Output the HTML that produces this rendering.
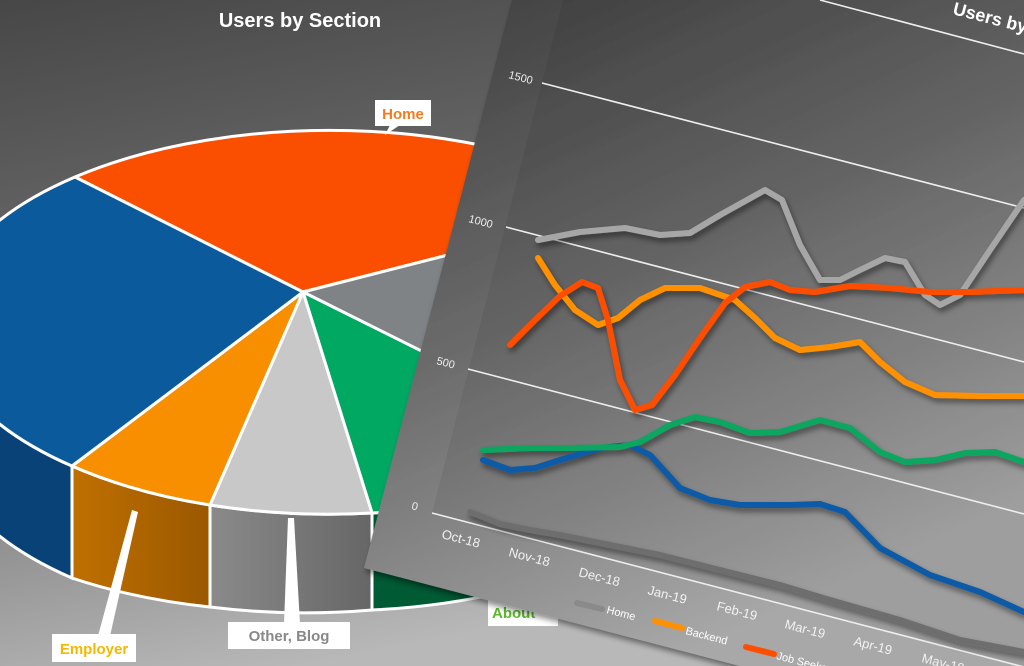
<!DOCTYPE html>
<html><head><meta charset="utf-8"><style>
html,body{margin:0;padding:0;width:1024px;height:666px;overflow:hidden;background:#777}
text{font-family:"Liberation Sans",sans-serif}
</style></head><body>
<svg width="1024" height="666" viewBox="0 0 1024 666" xmlns="http://www.w3.org/2000/svg">
<defs>
<linearGradient id="bg" x1="0" y1="0" x2="0.3" y2="1">
<stop offset="0" stop-color="#474747"/><stop offset="0.6" stop-color="#7a7a7a"/><stop offset="1" stop-color="#b8b8b8"/></linearGradient>
<linearGradient id="card" x1="0" y1="0" x2="0.45" y2="1">
<stop offset="0" stop-color="#3c3c3c"/><stop offset="0.5" stop-color="#6c6c6c"/><stop offset="1" stop-color="#a8a8a8"/></linearGradient>
<linearGradient id="emp" x1="0" y1="0" x2="1" y2="0"><stop offset="0" stop-color="#c07000"/><stop offset="1" stop-color="#9a5800"/></linearGradient>
<linearGradient id="gw" x1="0" y1="0" x2="1" y2="0"><stop offset="0" stop-color="#8a8a8a"/><stop offset="1" stop-color="#666"/></linearGradient>
<clipPath id="cc"><polygon points="512,0 1024,0 1024,666 740,666 364,568"/></clipPath>
<filter id="sh" x="-10%" y="-10%" width="120%" height="120%"><feDropShadow dx="2" dy="4" stdDeviation="3" flood-color="#000" flood-opacity="0.45"/></filter>
</defs>
<rect width="1024" height="666" fill="url(#bg)"/>
<text x="300" y="27" fill="#fff" font-size="20" font-weight="bold" text-anchor="middle">Users by Section</text>
<!-- walls -->
<g stroke="#fff" stroke-width="3">
<path d="M-60 322 A390 192 0 0 0 72 466 L72 578 A390 192 0 0 1 -60 434 Z" fill="#084276"/>
<path d="M72 466 A390 192 0 0 0 210 505 L210 607 A390 192 0 0 1 72 578 Z" fill="url(#emp)"/>
<path d="M210 505 A390 192 0 0 0 372 513 L372 610 A390 192 0 0 1 210 607 Z" fill="url(#gw)"/>
<path d="M372 513 A390 192 0 0 0 620 450 L620 550 A390 192 0 0 1 372 610 Z" fill="#005a34"/>
</g>
<!-- top face -->
<g stroke="#fff" stroke-width="3" stroke-linejoin="round">
<path d="M303 292 L75 177 A390 192 0 0 1 640 206 Z" fill="#fa4f00"/>
<path d="M303 292 L640 206 A390 192 0 0 1 620 450 Z" fill="#7f8386"/>
<path d="M303 292 L620 450 A390 192 0 0 1 372 513 Z" fill="#00a862"/>
<path d="M303 292 L372 513 A390 192 0 0 1 210 505 Z" fill="#c8c8c8"/>
<path d="M303 292 L210 505 A390 192 0 0 1 72 466 Z" fill="#f78f00"/>
<path d="M303 292 L72 466 A390 192 0 0 1 75 177 Z" fill="#0a5a9c"/>
</g>
<!-- callouts -->
<polygon points="390,125 400,125 385,135" fill="#fff"/>
<rect x="375" y="100" width="56" height="26" fill="#fff"/>
<text x="403" y="119" fill="#f57a20" font-size="15" font-weight="bold" text-anchor="middle">Home</text>
<polygon points="132,510 138,512 110,636 98,636" fill="#fff"/>
<rect x="52" y="634" width="84" height="28" fill="#fff"/>
<text x="94" y="654" fill="#f5b800" font-size="15" font-weight="bold" text-anchor="middle">Employer</text>
<polygon points="288,518 294,518 300,624 284,624" fill="#fff"/>
<rect x="228" y="622" width="122" height="27" fill="#fff"/>
<text x="289" y="641" fill="#888" font-size="15" font-weight="bold" text-anchor="middle">Other, Blog</text>
<rect x="488" y="598" width="70" height="28" fill="#fff"/>
<text x="492" y="618" fill="#5cb82e" font-size="15" font-weight="bold">About</text>
<!-- card -->
<polygon points="512,0 1024,0 1024,666 740,666 364,568" fill="url(#card)" filter="url(#sh)"/>
<g clip-path="url(#cc)">
<polygon points="563,0 1024,0 1024,666 432,513" fill="#000" opacity="0.06"/>
<g stroke="#eee" stroke-width="1.6">
<line x1="820" y1="0" x2="1024" y2="54"/>
<line x1="542" y1="83" x2="1024" y2="208"/>
<line x1="506" y1="227" x2="1024" y2="362"/>
<line x1="468" y1="369" x2="1024" y2="514"/>
<line x1="432" y1="513" x2="1024" y2="667"/>
</g>
<g fill="#eee" font-size="11">
<text transform="translate(508,78) rotate(14.5)">1500</text>
<text transform="translate(468,222) rotate(14.5)">1000</text>
<text transform="translate(436,364) rotate(14.5)">500</text>
<text transform="translate(411,509) rotate(14.5)">0</text>
</g>
<g fill="#f2f2f2" font-size="13">
<text transform="translate(441,538) rotate(14.5)">Oct-18</text>
<text transform="translate(508,556) rotate(14.5)">Nov-18</text>
<text transform="translate(578,576) rotate(14.5)">Dec-18</text>
<text transform="translate(647,594) rotate(14.5)">Jan-19</text>
<text transform="translate(716,610) rotate(14.5)">Feb-19</text>
<text transform="translate(784,628) rotate(14.5)">Mar-19</text>
<text transform="translate(853,645) rotate(14.5)">Apr-19</text>
<text transform="translate(921,662) rotate(14.5)">May-19</text>
</g>
<g fill="none" stroke-width="6" stroke-linecap="round" stroke-linejoin="round" filter="url(#sh)">
<polyline stroke="#6e6e6e" points="470,512 500,524 530,530 560,535 610,545 660,555 720,570 780,585 830,600 900,620 960,640 1024,652"/>
<polyline stroke="#a6a6a6" points="538,240 580,232 625,228 660,235 690,233 720,215 765,190 782,200 800,245 820,280 840,280 860,270 885,258 905,262 925,295 940,305 960,295 990,250 1024,200"/>
<polyline stroke="#0a5aa6" points="483,460 510,470 535,468 560,460 600,448 630,445 650,455 680,488 710,500 740,505 790,505 820,504 845,512 880,548 930,575 980,592 1024,612"/>
<polyline stroke="#0aa660" points="483,450 530,448 570,448 620,447 640,442 670,425 695,417 720,422 750,433 780,432 820,420 850,428 880,452 905,462 935,460 965,453 995,452 1024,462"/>
<polyline stroke="#ff9000" points="538,258 555,285 575,310 598,325 618,318 640,300 665,288 700,288 735,300 755,318 775,338 800,350 830,347 860,342 880,362 905,382 935,395 980,396 1024,396"/>
<polyline stroke="#ff4e00" points="510,345 535,320 560,296 582,282 598,288 608,320 620,380 635,410 652,405 675,375 700,338 725,303 745,287 770,282 790,290 815,292 850,286 890,288 930,292 970,292 1024,290"/>
</g>
<g stroke-width="6" stroke-linecap="round">
<line x1="577" y1="603" x2="602" y2="609" stroke="#8a8a8a"/>
<line x1="655" y1="621" x2="682" y2="628" stroke="#ff9000"/>
<line x1="746" y1="647" x2="774" y2="654" stroke="#ff4e00"/>
</g>
<g fill="#fff" font-size="11">
<text transform="translate(606,613) rotate(14.5)">Home</text>
<text transform="translate(685,634) rotate(14.5)">Backend</text>
<text transform="translate(776,659) rotate(14.5)">Job Seeker</text>
</g>
<text transform="translate(952,14) rotate(14.5)" fill="#fff" font-size="18" font-weight="bold">Users by Section</text>
</g>
</svg>
</body></html>
